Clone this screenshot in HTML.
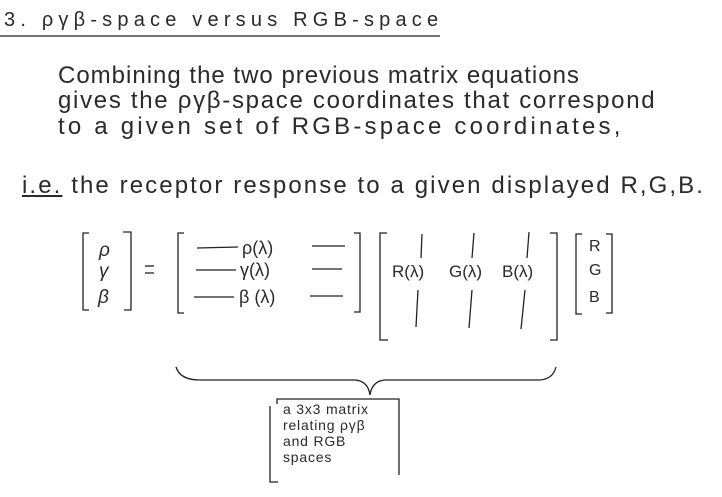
<!DOCTYPE html>
<html><head><meta charset="utf-8"><style>
html,body{margin:0;padding:0;background:#fff;}
body{width:722px;height:497px;overflow:hidden;position:relative;font-family:"Liberation Sans","DejaVu Sans",sans-serif;color:#2a2a2a;}
.t{position:absolute;white-space:nowrap;}
</style></head><body>
<div class="t" style="left:4px;top:9px;font-size:20px;letter-spacing:5.2px;">3. ργβ-space versus RGB-space</div>
<div class="t" style="left:58px;top:62px;font-size:24px;letter-spacing:1px;">Combining the two previous matrix equations</div>
<div class="t" style="left:58px;top:87px;font-size:24px;letter-spacing:1.7px;">gives the ργβ-space coordinates that correspond</div>
<div class="t" style="left:58px;top:113px;font-size:24px;letter-spacing:3.2px;">to a given set of RGB-space coordinates,</div>
<div class="t" style="left:22px;top:172px;font-size:24px;letter-spacing:2.1px;"><span style="text-decoration:underline">i.e.</span> the receptor response to a given displayed R,G,B.</div>
<svg width="722" height="497" style="position:absolute;left:0;top:0" fill="none" stroke="#222" stroke-width="1.3">
<line x1="0" y1="36" x2="440" y2="36"/>
<path d="M89 233 H83 V310 H89"/><path d="M123 232 H131 V310 H124"/>
<line x1="145" y1="266" x2="154" y2="266"/><line x1="145" y1="273" x2="154" y2="273"/>
<path d="M184 233 H178 V313 H184"/><path d="M354 233 H360 V312 H354"/>
<line x1="197" y1="248" x2="238" y2="247"/><line x1="312" y1="246" x2="345" y2="246"/>
<line x1="196" y1="270" x2="236" y2="270"/><line x1="312" y1="269" x2="342" y2="269"/>
<line x1="194" y1="297" x2="234" y2="297"/><line x1="310" y1="296" x2="343" y2="296"/>
<path d="M387 233 H380 V340 H388"/><path d="M550 233 H557 V340 H550"/>
<line x1="422" y1="234" x2="421" y2="258"/><line x1="474" y1="233" x2="472" y2="258"/><line x1="529" y1="232" x2="527" y2="258"/>
<line x1="418" y1="290" x2="416" y2="327"/><line x1="472" y1="290" x2="469" y2="328"/><line x1="525" y1="290" x2="521" y2="329"/>
<path d="M582 234 H576 V314 H582"/><path d="M606 234 H612 V313 H606"/>
<path d="M176 367 Q180 380 200 380 L355 380 Q368 381 370 395 Q372 381 385 380 L540 380 Q553 379 556 367"/>
<path d="M277 404 V399 H399 V475"/><path d="M270 406 V482 H278"/>
</svg>
<div class="t" style="left:99px;top:240px;font-size:19px;font-style:italic;">ρ</div>
<div class="t" style="left:99px;top:261px;font-size:19px;font-style:italic;">γ</div>
<div class="t" style="left:98px;top:287px;font-size:19px;font-style:italic;">β</div>
<div class="t" style="left:242px;top:238px;font-size:18px;">ρ(λ)</div>
<div class="t" style="left:240px;top:260px;font-size:18px;">γ(λ)</div>
<div class="t" style="left:239px;top:287px;font-size:18px;">β (λ)</div>
<div class="t" style="left:392px;top:262px;font-size:17px;">R(λ)</div>
<div class="t" style="left:449px;top:262px;font-size:17px;">G(λ)</div>
<div class="t" style="left:502px;top:262px;font-size:17px;">B(λ)</div>
<div class="t" style="left:589px;top:238px;font-size:16px;">R</div>
<div class="t" style="left:589px;top:262px;font-size:16px;">G</div>
<div class="t" style="left:589px;top:289px;font-size:16px;">B</div>
<div class="t" style="left:283px;top:401px;font-size:14px;line-height:16px;letter-spacing:0.8px;">a 3x3 matrix<br>relating ργβ<br>and RGB<br>spaces</div>
</body></html>
